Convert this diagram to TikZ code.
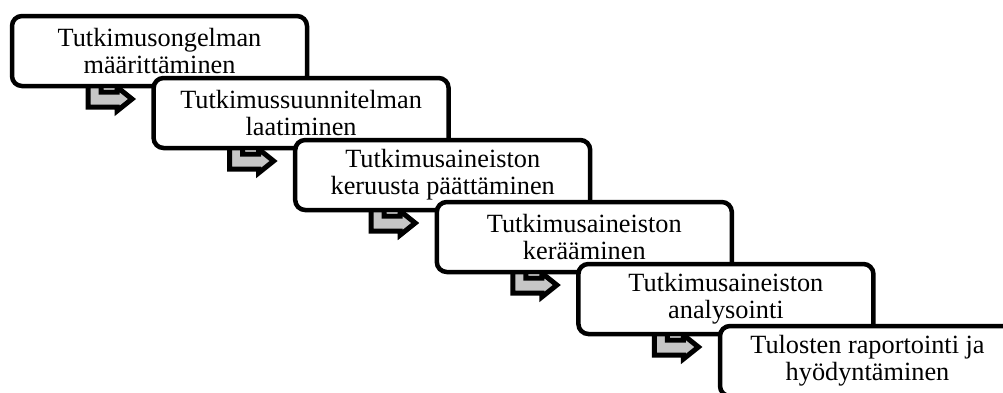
\documentclass[tikz,border=0pt]{standalone}
\usepackage{fontspec}
\setmainfont{Liberation Serif}
\usetikzlibrary{backgrounds}
\begin{document}
\begin{tikzpicture}[x=1pt,y=-1pt,
  stage/.style={draw=black, line width=4.5pt, rounded corners=10pt, fill=white,
    minimum width=295pt, minimum height=70pt, inner sep=0pt, outer sep=0pt,
    align=center, font=\fontsize{26.3}{27}\selectfont},
  bendarrow/.style={draw=black, line width=5pt, fill=gray!45, line join=miter}]
\useasboundingbox (0,0) rectangle (1003,392);
\clip (0,0) rectangle (1003,392);

% the six stages, each overlapping the previous one
\node[stage] (s1) at (159.5,51)  {Tutkimusongelman\\määrittäminen};
\node[stage] (s2) at (301.1,113) {Tutkimussuunnitelman\\laatiminen};
\node[stage] (s3) at (442.7,175) {Tutkimusaineiston\\keruusta päättäminen};
\node[stage] (s4) at (584.3,237) {Tutkimusaineiston\\kerääminen};
\node[stage] (s5) at (725.9,299) {Tutkimusaineiston\\analysointi};
\node[stage] (s6) at (867.5,361) {Tulosten raportointi ja\\hyödyntäminen};

% bent arrows hanging under each stage, pointing to the next one
\begin{scope}[on background layer]
  \foreach \i in {1,...,5}{
    \draw[bendarrow] ([shift={(76,-4)}]s\i.south west)
      -- ++(0,25) -- ++(29,0) -- ++(0,4) -- ++(15,-12) -- ++(-15,-12)
      -- ++(0,5) -- ++(-16,0) -- ++(0,-10) -- cycle;
  }
\end{scope}
\end{tikzpicture}
\end{document}
